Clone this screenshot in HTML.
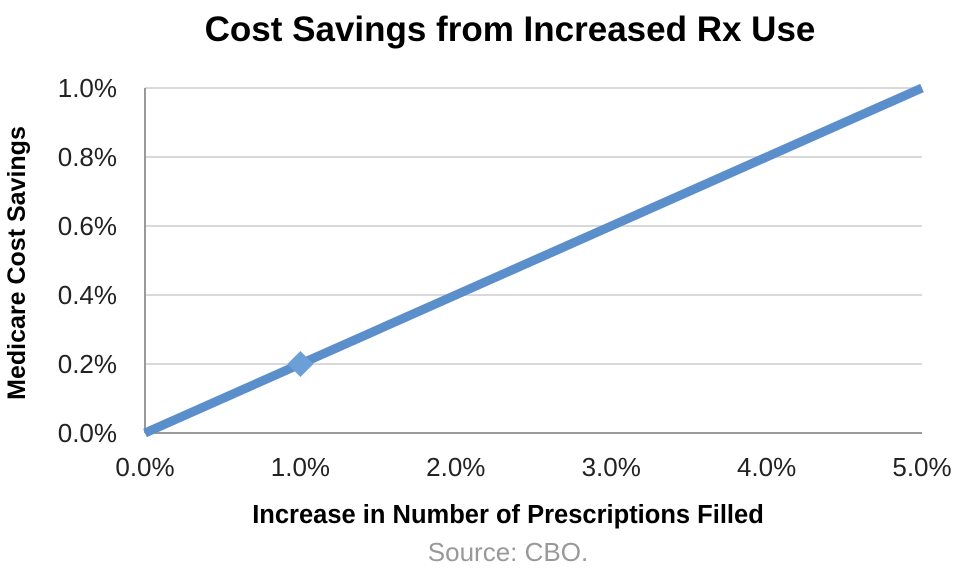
<!DOCTYPE html>
<html><head><meta charset="utf-8"><style>
body{margin:0;background:#fff;width:960px;height:576px;overflow:hidden;font-family:"Liberation Sans",sans-serif}
</style></head><body>
<svg id="c" width="960" height="576" xmlns="http://www.w3.org/2000/svg"></svg>
<script>
const xTicks=[0,1,2,3,4,5];
const yTicks=[0,0.2,0.4,0.6,0.8,1.0];
const xVals=[0,1,5];
const yVals=[0,0.2,1.0];
const markerIdx=[1];
const L=145,R=922,T=88,B=433;
const sx=v=>L+(v-0)/(5-0)*(R-L);
const sy=v=>B-(v-0)/(1-0)*(B-T);
const svg=document.getElementById('c');
const NS='http://www.w3.org/2000/svg';
function mk(tag,attrs,txt){const e=document.createElementNS(NS,tag);for(const k in attrs)e.setAttribute(k,attrs[k]);if(txt!==undefined)e.textContent=txt;svg.appendChild(e);return e;}
let e;
e=mk('text',{x:510,y:41,'text-anchor':'middle','font-size':35,'font-weight':'bold',fill:'#000'},'Cost Savings from Increased Rx Use');


yTicks.forEach(v=>{
 if(v>0){e=mk('line',{x1:L,x2:R,y1:sy(v),y2:sy(v),stroke:'#d9d9d9','stroke-width':2});
 
 }
 e=mk('text',{x:117,y:sy(v)+9,'text-anchor':'end','font-size':26,fill:'#222'},v.toFixed(1)+'%');
 
 
});
xTicks.forEach(v=>{
 e=mk('text',{x:sx(v),y:476,'text-anchor':'middle','font-size':26,fill:'#222'},v.toFixed(1)+'%');
 
 
});
e=mk('line',{x1:L,x2:L,y1:T,y2:B,stroke:'#999','stroke-width':2});


e=mk('line',{x1:L,x2:R,y1:B,y2:B,stroke:'#999','stroke-width':2});


const pts=xVals.map((x,i)=>sx(x)+','+sy(yVals[i])).join(' ');
e=mk('polyline',{points:pts,fill:'none',stroke:'#5a8fcb','stroke-width':9,'stroke-linejoin':'round'});


markerIdx.forEach(i=>{
 const x=sx(xVals[i]),y=sy(yVals[i]);
 e=mk('polygon',{points:`${x},${y-13} ${x+13},${y} ${x},${y+13} ${x-13},${y}`,fill:'#6a9fd8'});
 
 
});
e=mk('text',{x:0,y:0,transform:'translate(25,263) rotate(-90)','text-anchor':'middle','font-size':25,'font-weight':'bold',fill:'#000'},'Medicare Cost Savings');


e=mk('text',{x:508,y:523,'text-anchor':'middle','font-size':25.5,'font-weight':'bold',fill:'#000'},'Increase in Number of Prescriptions Filled');


e=mk('text',{x:508,y:561,'text-anchor':'middle','font-size':26,fill:'#999'},'Source: CBO.');


</script>
</body></html>
